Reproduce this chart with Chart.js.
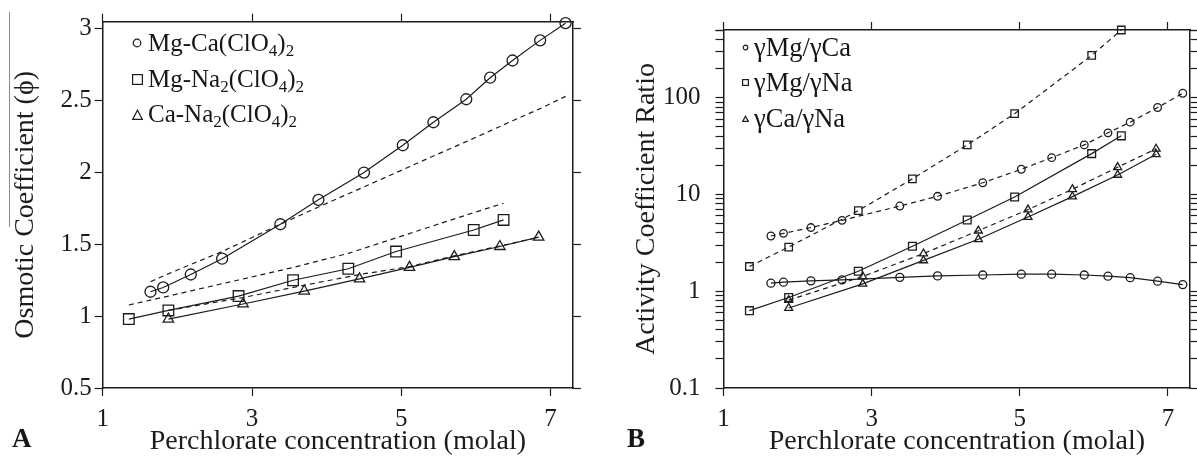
<!DOCTYPE html>
<html>
<head>
<meta charset="utf-8">
<title>Perchlorate mixtures</title>
<script src="https://cdn.jsdelivr.net/npm/chart.js@4.4.1/dist/chart.umd.min.js"></script>
<style>
  body { margin: 0; background: #fff; }
  #wrap { position: relative; width: 1197px; height: 458px; overflow: hidden;
          font-family: 'Liberation Serif', 'Times New Roman', serif; color: #161616; }
  .panel { position: absolute; top: 0; }
  .legend { position: absolute; left: 0; top: 0; }
  .legend .row { position: absolute; left: 0; height: 30px; width: 300px; }
  .legend svg { position: absolute; }
  .legend span { position: absolute; top: 0; line-height: 30px; white-space: nowrap; }
  #legendA { font-size: 25px; }
  #legendB { font-size: 26.5px; }
  sub { font-size: 68%; vertical-align: -0.28em; line-height: 0; }
  .tag { position: absolute; top: 425px; font-size: 27px; line-height: 27px; font-weight: bold; }
  .rule { position: absolute; left: 9px; top: 12px; width: 0; height: 215px; border-left: 1px solid #8a8a8a; }
</style>
</head>
<body>
<div id="wrap">
  <div class="panel" style="left:0"><canvas id="osmotic" width="598" height="458"></canvas></div>
  <div class="panel" style="left:598px"><canvas id="ratio" width="599" height="458"></canvas></div>
  <div class="legend" id="legendA"></div>
  <div class="legend" id="legendB"></div>
  <div class="tag" style="left:12px">A</div>
  <div class="tag" style="left:627px">B</div>
  <div class="rule"></div>
</div>
<script>
// Perchlorate concentration (molal) of each mixture series
const concMgCa = [1.64, 1.81, 2.18, 2.60, 3.38, 3.89, 4.50, 5.02, 5.43, 5.87, 6.19, 6.49, 6.86, 7.20];
const concMgNa = [1.35, 1.88, 2.82, 3.55, 4.29, 4.93, 5.97, 6.37];
const concCaNa = [1.88, 2.88, 3.70, 4.44, 5.11, 5.71, 6.32, 6.84];

// Panel A: osmotic coefficient, solid = fitted, dashed = predicted
const phiMgCa = [1.17, 1.20, 1.29, 1.40, 1.64, 1.81, 2.00, 2.19, 2.35, 2.51, 2.66, 2.78, 2.92, 3.04];
const phiMgCaPred = [1.24, 1.28, 1.36, 1.45, 1.64, 1.76, 1.90, 2.02, 2.115, 2.215, 2.29, 2.36, 2.445, 2.53];
const phiMgNa = [0.98, 1.04, 1.14, 1.25, 1.33, 1.45, 1.60, 1.67];
const phiMgNaPred = [1.078, 1.14, 1.252, 1.339, 1.437, 1.545, 1.721, 1.786];
const phiCaNa = [0.98, 1.085, 1.175, 1.26, 1.34, 1.415, 1.485, 1.55];
const phiCaNaPred = [1.04, 1.13, 1.215, 1.29, 1.345, 1.42, 1.488, 1.55];

// Panel B: activity coefficient ratios
const gMgCa = [1.21, 1.24, 1.28, 1.31, 1.39, 1.44, 1.47, 1.50, 1.50, 1.47, 1.43, 1.38, 1.27, 1.17];
const gMgCaPred = [3.72, 3.96, 4.55, 5.40, 7.59, 9.57, 13.2, 18.2, 24.0, 32.5, 43.3, 55.8, 79.1, 111];
const gMgNa = [0.63, 0.86, 1.61, 2.91, 5.44, 9.42, 26.4, 40.3];
const gMgNaPred = [1.80, 2.86, 6.80, 14.5, 32.5, 68.3, 273, 500];
const gCaNa = [0.67, 1.19, 2.08, 3.44, 5.84, 9.50, 15.9, 26.0];
const gCaNaPred = [0.81, 1.42, 2.45, 4.22, 6.96, 11.3, 19.1, 29.6];

// Axis ticks
const concTicks = [1, 3, 5, 7];
const phiTicks = [0.5, 1, 1.5, 2, 2.5, 3];
const ratioDecades = [0.1, 1, 10, 100];

const legendA = ['Mg-Ca(ClO<sub>4</sub>)<sub>2</sub>', 'Mg-Na<sub>2</sub>(ClO<sub>4</sub>)<sub>2</sub>', 'Ca-Na<sub>2</sub>(ClO<sub>4</sub>)<sub>2</sub>'];
const legendB = ['\u03B3Mg/\u03B3Ca', '\u03B3Mg/\u03B3Na', '\u03B3Ca/\u03B3Na'];

const ink = '#1c1c1c';
const serif = "'Liberation Serif', 'Times New Roman', serif";
const tickFont = { family: serif, size: 25 };
const titleFont = { family: serif, size: 28 };

const series = (xs, ys, extra) => Object.assign({
  data: xs.map((x, i) => ({ x, y: ys[i] })),
  borderColor: ink,
  borderWidth: 1.2,
  tension: 0,
  fill: false,
  pointBackgroundColor: 'rgba(255,255,255,0)',
  pointBorderColor: ink,
  pointBorderWidth: 1.3,
  pointHoverRadius: 0,
  clip: false
}, extra);

const dashed = [5, 4];

// Outward tick marks and a frame line on every side
const frameAxis = (cfg) => Object.assign({
  grid: { drawOnChartArea: false, drawTicks: true, tickLength: 8, tickColor: ink, tickWidth: 1.2 },
  border: { display: true, color: ink, width: 1.5 }
}, cfg);

const fixedTicks = (values) => (scale) => {
  scale.ticks = values.map(v => ({ value: v }));
};

const logTicks = [];
ratioDecades.forEach(d => {
  for (let k = 1; k <= 9; k++) {
    const v = +(d * k).toPrecision(3);
    if (v <= 500) logTicks.push(v);
  }
});
logTicks.push(500);

const hideLabels = { display: false };

new Chart(document.getElementById('osmotic'), {
  type: 'line',
  data: {
    datasets: [
      series(concMgCa, phiMgCa, { pointStyle: 'circle', pointRadius: 5.5 }),
      series(concMgCa, phiMgCaPred, { pointRadius: 0, borderDash: dashed }),
      series(concMgNa, phiMgNa, { pointStyle: 'rect', pointRadius: 7.5 }),
      series(concMgNa, phiMgNaPred, { pointRadius: 0, borderDash: dashed }),
      series(concCaNa, phiCaNa, { pointStyle: 'triangle', pointRadius: 6 }),
      series(concCaNa, phiCaNaPred, { pointRadius: 0, borderDash: dashed })
    ]
  },
  options: {
    responsive: false,
    animation: false,
    events: [],
    layout: { padding: 0 },
    plugins: { legend: { display: false }, tooltip: { enabled: false } },
    scales: {
      x: frameAxis({
        type: 'linear', position: 'bottom', min: 1, max: 7.3,
        afterBuildTicks: fixedTicks(concTicks),
        ticks: { font: tickFont, color: ink, padding: 8, maxRotation: 0, autoSkip: false },
        title: { display: true, text: 'Perchlorate concentration (molal)', font: titleFont, color: ink, padding: { top: 0, bottom: 0 } },
        afterFit: (s) => { s.height = 70; }
      }),
      xTop: frameAxis({
        type: 'linear', position: 'top', min: 1, max: 7.3,
        afterBuildTicks: fixedTicks(concTicks),
        ticks: hideLabels,
        afterFit: (s) => { s.height = 21.7; }
      }),
      y: frameAxis({
        type: 'linear', position: 'left', min: 0.5, max: 3.05,
        afterBuildTicks: fixedTicks(phiTicks),
        ticks: { font: tickFont, color: ink, padding: 3, autoSkip: false, callback: (v) => String(v) },
        title: { display: true, text: 'Osmotic Coefficient (\u03D5)', font: titleFont, color: ink, padding: { top: 8.5, bottom: 0 } },
        afterFit: (s) => { s.width = 102.7; }
      }),
      yRight: frameAxis({
        type: 'linear', position: 'right', min: 0.5, max: 3.05,
        afterBuildTicks: fixedTicks(phiTicks),
        ticks: hideLabels,
        afterFit: (s) => { s.width = 25; }
      })
    }
  }
});

new Chart(document.getElementById('ratio'), {
  type: 'line',
  data: {
    datasets: [
      series(concMgCa, gMgCa, { pointStyle: 'circle', pointRadius: 4 }),
      series(concMgCa, gMgCaPred, { pointStyle: 'circle', pointRadius: 3.8, borderDash: dashed }),
      series(concMgNa, gMgNa, { pointStyle: 'rect', pointRadius: 5.5 }),
      series(concMgNa, gMgNaPred, { pointStyle: 'rect', pointRadius: 5.3, borderDash: dashed }),
      series(concCaNa, gCaNa, { pointStyle: 'triangle', pointRadius: 4.6 }),
      series(concCaNa, gCaNaPred, { pointStyle: 'triangle', pointRadius: 4.6, borderDash: dashed })
    ]
  },
  options: {
    responsive: false,
    animation: false,
    events: [],
    layout: { padding: 0 },
    plugins: { legend: { display: false }, tooltip: { enabled: false } },
    scales: {
      x: frameAxis({
        type: 'linear', position: 'bottom', min: 1, max: 7.3,
        afterBuildTicks: fixedTicks(concTicks),
        ticks: { font: tickFont, color: ink, padding: 8, maxRotation: 0, autoSkip: false },
        title: { display: true, text: 'Perchlorate concentration (molal)', font: titleFont, color: ink, padding: { top: 0, bottom: 0 } },
        afterFit: (s) => { s.height = 70; }
      }),
      xTop: frameAxis({
        type: 'linear', position: 'top', min: 1, max: 7.3,
        afterBuildTicks: fixedTicks(concTicks),
        ticks: hideLabels,
        afterFit: (s) => { s.height = 21.7; }
      }),
      y: frameAxis({
        type: 'logarithmic', position: 'left', min: 0.1, max: 500,
        afterBuildTicks: fixedTicks(logTicks),
        ticks: {
          font: tickFont, color: ink, padding: 15, autoSkip: false,
          callback: (v) => ratioDecades.includes(v) ? String(v) : ''
        },
        title: { display: true, text: 'Activity Coefficient Ratio', font: titleFont, color: ink, padding: { top: 32, bottom: 0 } },
        afterFit: (s) => { s.width = 125.5; }
      }),
      yRight: frameAxis({
        type: 'logarithmic', position: 'right', min: 0.1, max: 500,
        afterBuildTicks: fixedTicks(logTicks),
        ticks: hideLabels,
        afterFit: (s) => { s.width = 3; }
      })
    }
  }
});

// Marker + label legends drawn over each panel
const markerSvg = (shape, size) => {
  const h = size / 2, sw = 1.2;
  let body;
  if (shape === 'circle') body = `<circle cx="${h}" cy="${h}" r="${h - sw}" />`;
  else if (shape === 'rect') body = `<rect x="${sw / 2}" y="${sw / 2}" width="${size - sw}" height="${size - sw}" />`;
  else body = `<polygon points="${h},${sw} ${size - sw / 2},${size - sw / 2} ${sw / 2},${size - sw / 2}" />`;
  return `<svg width="${size}" height="${size}" viewBox="0 0 ${size} ${size}" fill="none" stroke="${ink}" stroke-width="${sw}">${body}</svg>`;
};

const buildLegend = (el, labels, rows, markerX, textX, sizes) => {
  const shapes = ['circle', 'rect', 'triangle'];
  labels.forEach((label, i) => {
    const row = document.createElement('div');
    row.className = 'row';
    row.style.top = (rows[i] - 15) + 'px';
    const sz = sizes[i];
    row.innerHTML = markerSvg(shapes[i], sz) + `<span style="left:${textX}px">${label}</span>`;
    const svg = row.querySelector('svg');
    svg.style.left = (markerX - sz / 2) + 'px';
    svg.style.top = (15 - sz / 2) + 'px';
    el.appendChild(row);
  });
};

buildLegend(document.getElementById('legendA'), legendA, [43, 79, 114], 137, 148, [10, 11, 11]);
buildLegend(document.getElementById('legendB'), legendB, [47, 82, 118], 745, 754, [7, 7, 7]);
</script>
</body>
</html>
